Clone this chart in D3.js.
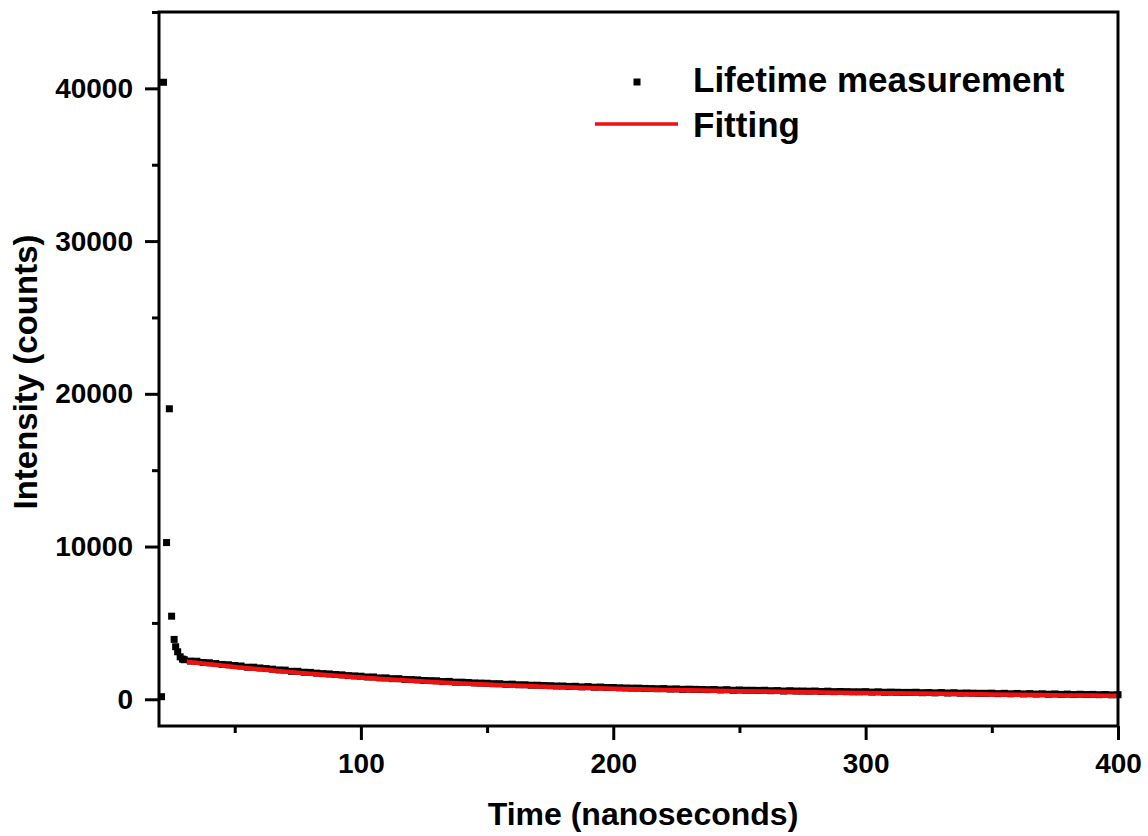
<!DOCTYPE html>
<html>
<head>
<meta charset="utf-8">
<script src="https://cdn.jsdelivr.net/npm/d3@7"></script>
<style>
  body { margin: 0; background: white; }
  text { font-family: "Liberation Sans", Arial, sans-serif; font-weight: bold; fill: black; }
</style>
</head>
<body>
<div id="grafico"></div>
<script>
// lifetime decay data

// first points around the excitation pulse [time, counts]
var pulseT = [21, 21.8, 23, 24.1, 25, 26, 26.6, 27.4, 28.4, 29.3];
var pulseI = [170, 40400, 10260, 19020, 5440, 3920, 3440, 3110, 2780, 2630];

// tail of the decay, one bin every 2.5 ns from 30 ns
var tailStart = 30, tailStep = 2.5;
var tailI = [
  2590, 2500, 2490, 2410, 2390, 2340, 2280, 2260, 2210, 2180, 2100, 2100,
  2050, 2010, 1970, 1920, 1910, 1830, 1830, 1770, 1760, 1710, 1680, 1660,
  1620, 1600, 1550, 1530, 1510, 1460, 1460, 1400, 1400, 1350, 1350, 1300,
  1290, 1270, 1230, 1220, 1210, 1160, 1170, 1120, 1120, 1100, 1070, 1060,
  1050, 1020, 1020, 980, 990, 950, 950, 920, 920, 900, 890, 870,
  870, 840, 850, 810, 830, 790, 800, 770, 770, 750, 740, 730,
  730, 710, 700, 690, 700, 670, 680, 650, 660, 650, 640, 630,
  640, 610, 630, 590, 610, 590, 590, 580, 590, 560, 570, 540,
  560, 540, 540, 530, 540, 510, 530, 500, 510, 500, 490, 490,
  500, 470, 490, 460, 470, 460, 450, 450, 460, 430, 440, 420,
  440, 410, 430, 400, 410, 400, 390, 390, 400, 370, 390, 360,
  380, 350, 370, 340, 360, 330, 350, 320, 340, 310, 330, 310,
  320, 300, 310, 290, 300
];

// fitted curve
var fitT = [31, 40, 50, 60, 70, 80, 90, 100, 110, 120, 130, 140, 150, 160, 170, 180, 190, 200,
            210, 220, 230, 240, 250, 260, 270, 280, 290, 300, 310, 320, 330, 340, 350, 360,
            370, 380, 390, 400];
var fitI = [2460, 2300, 2120, 1960, 1810, 1670, 1540, 1420, 1310, 1210, 1120, 1040, 970, 900,
            840, 790, 740, 690, 650, 615, 585, 555, 530, 505, 480, 455, 435, 415, 395, 375,
            355, 335, 315, 295, 275, 255, 240, 225];

var xMajor = [100, 200, 300, 400],
    xMinor = [50, 150, 250, 350],
    yMajor = [0, 10000, 20000, 30000, 40000],
    yMinor = [5000, 15000, 25000, 35000, 45000];

var margin = {top: 12, right: 30, bottom: 110, left: 159},
    w = 1148,
    h = 836;

var svg = d3.select("#grafico")
            .append("svg")
            .attr("width", w)
            .attr("height", h)
            .style("background-color", "white");

var width = w - margin.left - margin.right,
    height = h - margin.top - margin.bottom,
    g = svg.append("g").attr("transform", "translate(" + margin.left + "," + margin.top + ")");

var x = d3.scaleLinear().domain([20, 400]).range([0, width]),
    y = d3.scaleLinear().domain([-1750, 45000]).range([height, 0]);

// build the measurement points
var meas = pulseT.map(function(t, i) { return {t: t, v: pulseI[i]}; });
tailI.forEach(function(v, i) {
    meas.push({t: tailStart + i * tailStep, v: v});
});
var fit = fitT.map(function(t, i) { return {t: t, v: fitI[i]}; });

var sq = 7;

g.selectAll("rect.pt")
  .data(meas)
  .enter()
  .append("rect")
  .attr("class", "pt")
  .attr("x", function(d) { return x(d.t) - sq / 2; })
  .attr("y", function(d) { return y(d.v) - sq / 2; })
  .attr("width", sq)
  .attr("height", sq)
  .attr("fill", "black");

var line = d3.line()
    .x(function(d) { return x(d.t); })
    .y(function(d) { return y(d.v); })
    .curve(d3.curveMonotoneX);

g.append("path")
  .datum(fit)
  .attr("d", line)
  .attr("fill", "none")
  .attr("stroke", "#ee1111")
  .attr("stroke-width", 4.5);

// axes
var axStyle = function(sel) {
    sel.select(".domain").remove();
    sel.selectAll(".tick line").attr("stroke", "black").attr("stroke-width", 3);
    sel.selectAll(".tick text")
       .style("font-family", "'Liberation Sans', Arial, sans-serif")
       .style("font-weight", "bold")
       .style("font-size", "28px")
       .attr("fill", "black");
};

g.append("g")
  .attr("transform", "translate(0," + height + ")")
  .call(d3.axisBottom(x).tickValues(xMajor).tickSize(14).tickSizeOuter(0).tickPadding(13.5)
        .tickFormat(d3.format("d")))
  .call(axStyle);

g.append("g")
  .attr("transform", "translate(0," + height + ")")
  .call(d3.axisBottom(x).tickValues(xMinor).tickSize(7).tickSizeOuter(0).tickFormat(""))
  .call(axStyle);

g.append("g")
  .call(d3.axisLeft(y).tickValues(yMajor).tickSize(14).tickSizeOuter(0).tickPadding(12)
        .tickFormat(d3.format("d")))
  .call(axStyle);

g.append("g")
  .call(d3.axisLeft(y).tickValues(yMinor).tickSize(7).tickSizeOuter(0).tickFormat(""))
  .call(axStyle);

// frame
g.append("rect")
  .attr("x", 0)
  .attr("y", 0)
  .attr("width", width)
  .attr("height", height)
  .attr("fill", "none")
  .attr("stroke", "black")
  .attr("stroke-width", 3);

// axis titles
svg.append("text")
   .attr("x", 643)
   .attr("y", 825)
   .style("text-anchor", "middle")
   .style("font-size", "32px")
   .text("Time (nanoseconds)");

svg.append("text")
   .attr("transform", "translate(37,372) rotate(-90)")
   .style("text-anchor", "middle")
   .style("font-size", "33px")
   .text("Intensity (counts)");

// legend
svg.append("rect")
   .attr("x", 637 - sq / 2)
   .attr("y", 82 - sq / 2)
   .attr("width", sq)
   .attr("height", sq)
   .attr("fill", "black");

svg.append("text")
   .attr("x", 693)
   .attr("y", 92)
   .style("font-size", "35px")
   .text("Lifetime measurement");

svg.append("line")
   .attr("x1", 595)
   .attr("x2", 678)
   .attr("y1", 124)
   .attr("y2", 124)
   .attr("stroke", "#ee1111")
   .attr("stroke-width", 3.5);

svg.append("text")
   .attr("x", 693)
   .attr("y", 137)
   .style("font-size", "35px")
   .text("Fitting");
</script>
</body>
</html>
